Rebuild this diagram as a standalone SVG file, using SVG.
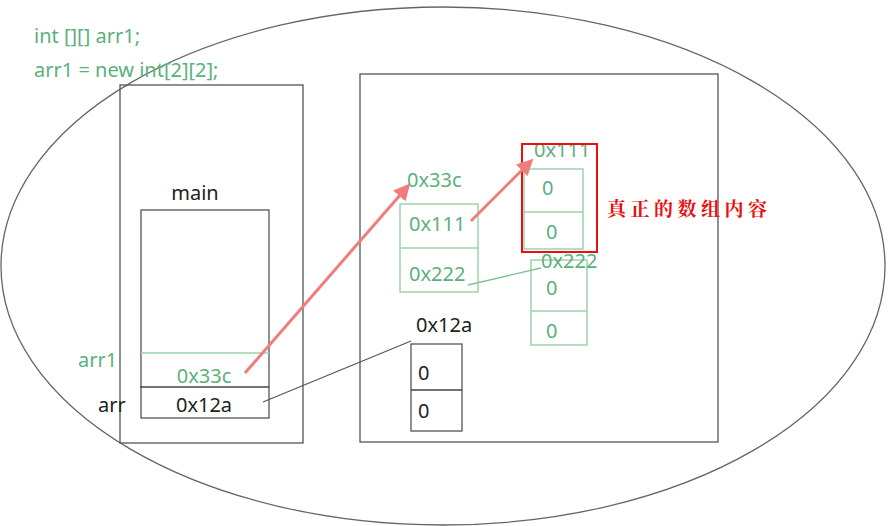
<svg xmlns="http://www.w3.org/2000/svg" width="888" height="526" viewBox="0 0 888 526">
<defs>
<style>
.t{font-family:"Noto Sans","Open Sans",sans-serif;font-size:20px}
.g{fill:#5bb07c}
.k{fill:#222}
.bx{fill:none;stroke:#555;stroke-width:1.3}
.gb{fill:none;stroke:#9dd2ae;stroke-width:1.5}
.red{fill:none;stroke:#f07c7c;stroke-width:3}
</style>
<marker id="ah" viewBox="0 0 10 10" refX="8" refY="5" markerWidth="5.5" markerHeight="5.5" orient="auto-start-reverse" markerUnits="strokeWidth">
<path d="M0,0 L10,5 L0,10 z" fill="#f07c7c"/>
</marker>
</defs>
<rect width="888" height="526" fill="#fff"/>
<ellipse cx="443" cy="266" rx="442" ry="259" fill="none" stroke="#666" stroke-width="1.3"/>
<g id="code">
<text class="t g" x="34" y="43">int [][] arr1;</text>
<text class="t g" x="34" y="77">arr1 = new int[2][2];</text>
</g>
<g id="stack">
<rect class="bx" x="120" y="85" width="183" height="358"/>
</g>
<g id="main">
<rect class="bx" x="141" y="210" width="128" height="208"/>
<text class="t k" x="195" y="200" text-anchor="middle">main</text>
<line x1="141" y1="353" x2="269" y2="353" stroke="#9dd2ae" stroke-width="1.5"/>
<line x1="140" y1="387" x2="269" y2="387" stroke="#444" stroke-width="1.3"/>
<text class="t g" x="78" y="367">arr1</text>
<text class="t g" x="204" y="383" text-anchor="middle">0x33c</text>
<text class="t k" x="98" y="412">arr</text>
<text class="t k" x="204" y="412" text-anchor="middle">0x12a</text>
</g>
<g id="heap">
<rect class="bx" x="360" y="74" width="358" height="368"/>
</g>
<g id="arr33c">
<rect class="gb" x="400" y="204" width="78" height="88"/>
<line x1="400" y1="248" x2="478" y2="248" stroke="#9dd2ae" stroke-width="1.5"/>
<text class="t g" x="407" y="187">0x33c</text>
<text class="t g" x="409" y="231">0x111</text>
<text class="t g" x="409" y="281">0x222</text>
</g>
<g id="arr111">
<rect class="gb" x="524" y="169" width="59" height="80"/>
<line x1="524" y1="212" x2="583" y2="212" stroke="#9dd2ae" stroke-width="1.5"/>
<text class="t g" x="534" y="157">0x111</text>
<text class="t g" x="542" y="195">0</text>
<text class="t g" x="546" y="239">0</text>
<rect x="522" y="144" width="75" height="108" fill="none" stroke="#e81010" stroke-width="2"/>
</g>
<g id="arr222">
<rect class="gb" x="531" y="260" width="56" height="85"/>
<line x1="531" y1="311" x2="587" y2="311" stroke="#9dd2ae" stroke-width="1.5"/>
<text class="t g" x="541" y="268">0x222</text>
<text class="t g" x="546" y="295">0</text>
<text class="t g" x="546" y="338">0</text>
</g>
<g id="arr12a">
<rect class="bx" x="411" y="344" width="51" height="87"/>
<line x1="411" y1="390" x2="462" y2="390" stroke="#444" stroke-width="1.3"/>
<text class="t k" x="416" y="332">0x12a</text>
<text class="t k" x="418" y="380">0</text>
<text class="t k" x="418" y="418">0</text>
</g>
<g id="label">
<text x="607" y="216" fill="#e81010" font-family="'Noto Serif CJK SC','Noto Sans CJK SC',serif" font-size="19" font-weight="bold" letter-spacing="4.5">真正的数组内容</text>
</g>
<g id="connectors">
<line class="red" x1="245" y1="373" x2="408" y2="186" marker-end="url(#ah)"/>
<line class="red" x1="471" y1="221" x2="531" y2="161" marker-end="url(#ah)"/>
<line x1="468" y1="285" x2="541" y2="268" stroke="#7cc496" stroke-width="1.3"/>
<line x1="263" y1="402" x2="411" y2="341" stroke="#555" stroke-width="1.2"/>
</g>
</svg>
